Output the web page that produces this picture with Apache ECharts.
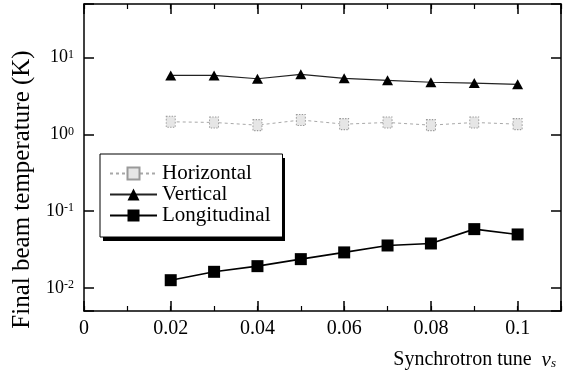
<!DOCTYPE html>
<html>
<head>
<meta charset="utf-8">
<script src="https://cdn.jsdelivr.net/npm/echarts@6/dist/echarts.min.js"></script>
<style>
  html, body { margin: 0; padding: 0; background: #fff; }
  #chart { width: 573px; height: 375px; }
</style>
</head>
<body>
<div id="chart"></div>
<script>
// Synchrotron tune values at which the final temperatures were computed
const tunes = [0.02, 0.03, 0.04, 0.05, 0.06, 0.07, 0.08, 0.09, 0.1];

// Final beam temperature (K) per degree of freedom
const horizontalK   = [1.46, 1.43, 1.32, 1.54, 1.36, 1.43, 1.32, 1.43, 1.36];
const verticalK     = [5.87, 5.87, 5.31, 6.06, 5.37, 5.06, 4.78, 4.67, 4.49];
const longitudinalK = [0.0126, 0.0162, 0.0192, 0.0237, 0.0290, 0.0357, 0.0379, 0.0583, 0.0497];

const seriesNames = ['Horizontal', 'Vertical', 'Longitudinal'];

// Labelled ticks
const xTickValues = [0, 0.02, 0.04, 0.06, 0.08, 0.1];
const yTickValues = [0.01, 0.1, 1, 10];

const yAxisTitle = 'Final beam temperature (K)';
const xAxisTitle = 'Synchrotron tune\u2002';

const SERIF = "'Liberation Serif', 'Times New Roman', serif";
const BLACK = '#000';

const pairs = (ys) => tunes.map((x, i) => [x, ys[i]]);

const frameLine = { show: true, onZero: false, lineStyle: { color: BLACK, width: 1.5 } };
const majorTick = { show: true, inside: true, length: 10, lineStyle: { color: BLACK, width: 1.5 } };
const halfStepTick = { show: true, inside: true, length: 5, lineStyle: { color: BLACK, width: 1.2 } };

const xRange = { type: 'value', min: 0, max: 0.11 };
const yRange = { type: 'log', logBase: 10, min: 0.005, max: 50 };

const gridRect = { left: 84, right: 12, top: 4, bottom: 64 };

// legend box geometry (used for its drop shadow)
const legendBox = { left: 100, top: 154, width: 182, height: 83 };

const option = {
  animation: false,
  backgroundColor: '#fff',
  grid: [Object.assign({}, gridRect), Object.assign({}, gridRect)],
  title: {
    text: '{a|' + xAxisTitle + '}{n|ν}{s|s}',
    right: 17,
    top: 350,
    padding: 0,
    textStyle: {
      fontWeight: 'normal',
      rich: {
        a: { fontFamily: SERIF, fontSize: 20, fontWeight: 'normal', color: BLACK, lineHeight: 20, verticalAlign: 'top' },
        n: { fontFamily: SERIF, fontSize: 21, fontWeight: 'normal', fontStyle: 'italic', color: BLACK, lineHeight: 20, verticalAlign: 'top' },
        s: { fontFamily: SERIF, fontSize: 13, fontWeight: 'normal', fontStyle: 'italic', color: BLACK, lineHeight: 13,
             padding: [11, 0, 0, 0], verticalAlign: 'bottom' }
      }
    }
  },
  graphic: [
    {
      type: 'rect', z: 1, silent: true,
      shape: { x: legendBox.left + 3, y: legendBox.top + 4, width: legendBox.width, height: legendBox.height },
      style: { fill: BLACK }
    }
  ],
  legend: {
    data: seriesNames,
    orient: 'vertical',
    left: legendBox.left,
    top: legendBox.top,
    z: 10,
    itemWidth: 47,
    itemHeight: 15,
    itemGap: 0,
    padding: [9, 12, 11, 9],
    backgroundColor: '#fff',
    borderColor: BLACK,
    borderWidth: 1,
    textStyle: { fontFamily: SERIF, fontSize: 21, color: BLACK, lineHeight: 21 }
  },
  xAxis: [
    Object.assign({}, xRange, {
      gridIndex: 0, position: 'bottom', interval: 0.02,
      axisLine: frameLine, axisTick: majorTick, splitLine: { show: false },
      axisLabel: {
        margin: 8, fontFamily: SERIF, fontSize: 20, color: BLACK,
        formatter: (v) => xTickValues.some((t) => Math.abs(t - v) < 1e-9) ? String(Math.round(v * 100) / 100) : ''
      }
    }),
    Object.assign({}, xRange, {
      gridIndex: 0, position: 'top', interval: 0.02,
      axisLine: frameLine, axisTick: majorTick, splitLine: { show: false }, axisLabel: { show: false }
    }),
    // half-step ticks on both horizontal edges
    Object.assign({}, xRange, {
      gridIndex: 1, position: 'bottom', interval: 0.01,
      axisLine: { show: false }, axisTick: halfStepTick, splitLine: { show: false }, axisLabel: { show: false }
    }),
    Object.assign({}, xRange, {
      gridIndex: 1, position: 'top', interval: 0.01,
      axisLine: { show: false }, axisTick: halfStepTick, splitLine: { show: false }, axisLabel: { show: false }
    })
  ],
  yAxis: [
    Object.assign({}, yRange, {
      gridIndex: 0, position: 'left',
      axisLine: frameLine, axisTick: majorTick, splitLine: { show: false }, minorTick: { show: false },
      axisLabel: {
        margin: 10,
        fontFamily: SERIF, fontSize: 17, color: BLACK,
        formatter: (v) => {
          const e = Math.log10(v);
          const r = Math.round(e);
          if (Math.abs(e - r) > 1e-6 || !yTickValues.some((t) => Math.abs(Math.log10(t) - r) < 1e-6)) return '';
          return '{b|10}{e|' + r + '}';
        },
        rich: {
          b: { fontFamily: SERIF, fontSize: 18, color: BLACK, lineHeight: 18, verticalAlign: 'middle' },
          e: { fontFamily: SERIF, fontSize: 12, color: BLACK, lineHeight: 12, verticalAlign: 'top' }
        }
      },
      name: yAxisTitle,
      nameLocation: 'middle',
      nameGap: 47,
      nameTextStyle: { fontFamily: SERIF, fontSize: 25, color: BLACK, padding: [0, 64, 0, 0] }
    }),
    Object.assign({}, yRange, {
      gridIndex: 0, position: 'right',
      axisLine: frameLine, axisTick: majorTick, splitLine: { show: false }, axisLabel: { show: false }
    }),
    { gridIndex: 1, type: 'value', show: false }
  ],
  series: [
    {
      name: seriesNames[0], type: 'line', xAxisIndex: 0, yAxisIndex: 0,
      data: pairs(horizontalK),
      symbol: 'rect', symbolSize: [9, 11],
      itemStyle: { color: '#e6e6e6', borderColor: '#9a9a9a', borderWidth: 1, borderType: [1.5, 1.5] },
      lineStyle: { color: '#a8a8a8', width: 1, type: [3, 3] },
      z: 2
    },
    {
      name: seriesNames[1], type: 'line', xAxisIndex: 0, yAxisIndex: 0,
      data: pairs(verticalK),
      symbol: 'triangle', symbolSize: [11, 10],
      itemStyle: { color: BLACK },
      lineStyle: { color: '#222', width: 1.2 },
      z: 3
    },
    {
      name: seriesNames[2], type: 'line', xAxisIndex: 0, yAxisIndex: 0,
      data: pairs(longitudinalK),
      symbol: 'rect', symbolSize: 12,
      itemStyle: { color: BLACK },
      lineStyle: { color: BLACK, width: 1.6 },
      z: 4
    }
  ]
};

const chart = echarts.init(document.getElementById('chart'), null, { renderer: 'canvas' });
chart.setOption(option);
</script>
</body>
</html>
